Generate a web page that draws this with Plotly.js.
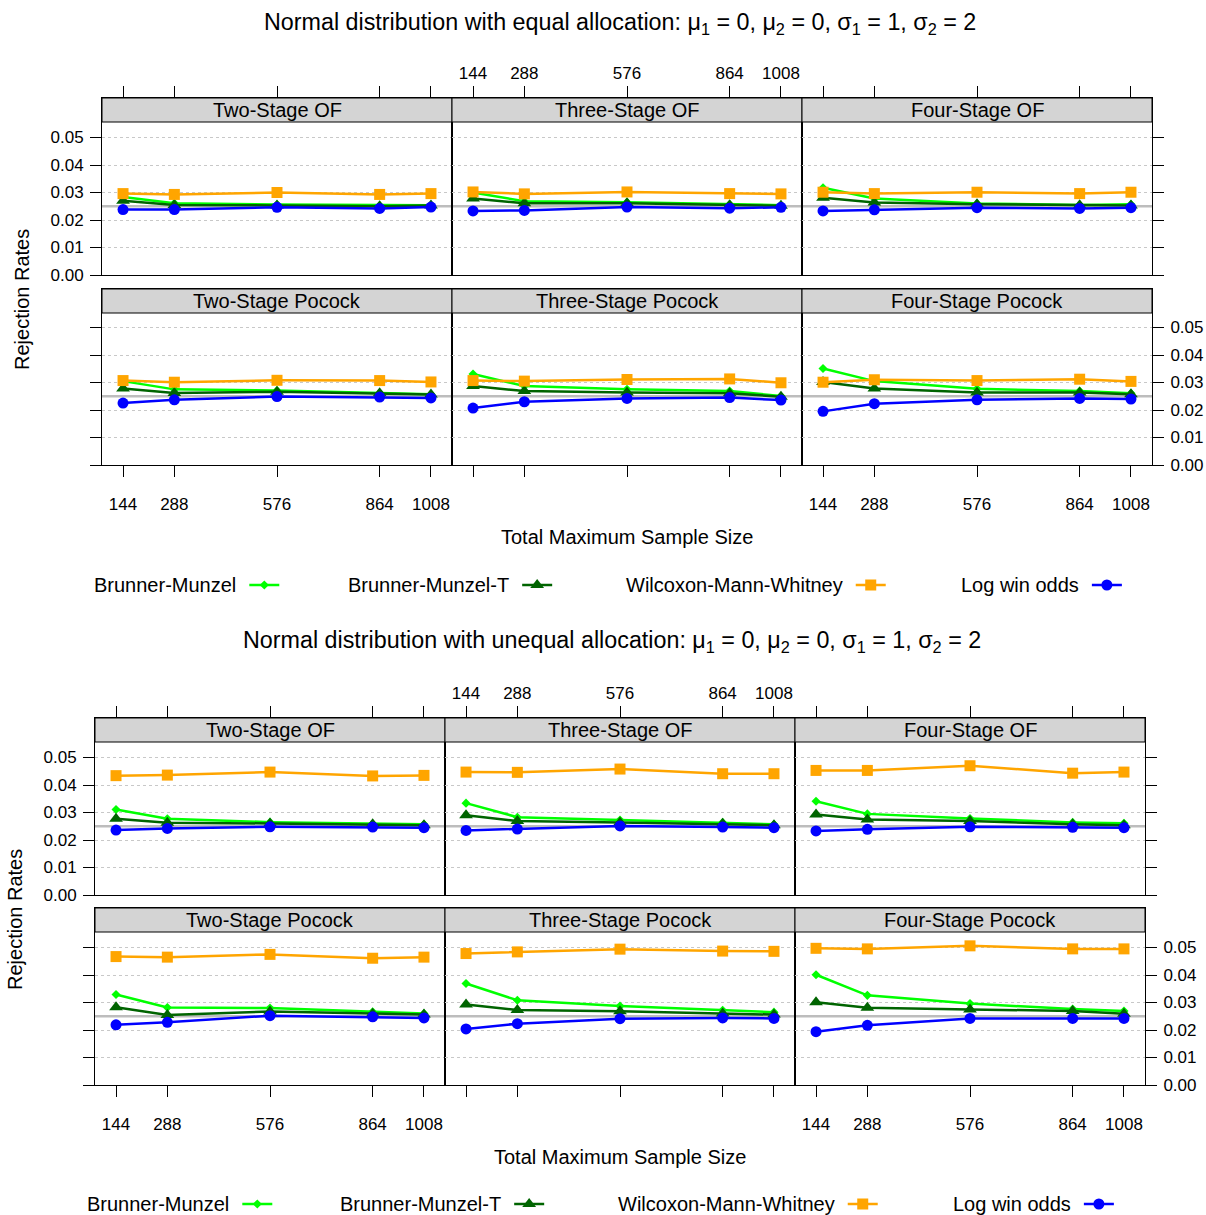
<!DOCTYPE html>
<html>
<head>
<meta charset="utf-8">
<script src="https://cdn.plot.ly/plotly-3.0.1.min.js"></script>
<style>
  html, body { margin: 0; padding: 0; background: #ffffff; width: 1206px; height: 1215px; overflow: hidden; }
  #chart { width: 1206px; height: 1215px; }
</style>
</head>
<body>
<div id="chart"></div>
<script>
// ---------------- DATA ----------------
const sampleSizes = [144, 288, 576, 864, 1008];
const methodNames = ['Brunner-Munzel', 'Brunner-Munzel-T', 'Wilcoxon-Mann-Whitney', 'Log win odds'];
const designNames = ['Two-Stage OF', 'Three-Stage OF', 'Four-Stage OF',
                     'Two-Stage Pocock', 'Three-Stage Pocock', 'Four-Stage Pocock'];
const figureTitles = [
  'Normal distribution with equal allocation: μ<sub>1</sub> = 0, μ<sub>2</sub> = 0, σ<sub>1</sub> = 1, σ<sub>2</sub> = 2',
  'Normal distribution with unequal allocation: μ<sub>1</sub> = 0, μ<sub>2</sub> = 0, σ<sub>1</sub> = 1, σ<sub>2</sub> = 2'
];
const xAxisTitle = 'Total Maximum Sample Size';
const yAxisTitle = 'Rejection Rates';
const yTickVals = [0, 0.01, 0.02, 0.03, 0.04, 0.05];
const yTickText = ['0.00', '0.01', '0.02', '0.03', '0.04', '0.05'];
const nominalLevel = 0.025;

// Equal allocation — one row per design (order of designNames)
const equalBrunnerMunzel = [
  [0.0284, 0.0261, 0.0256, 0.0253, 0.0254],
  [0.0300, 0.0268, 0.0265, 0.0257, 0.0254],
  [0.0317, 0.0278, 0.0260, 0.0255, 0.0257],
  [0.0305, 0.0275, 0.0271, 0.0262, 0.0257],
  [0.0331, 0.0287, 0.0275, 0.0269, 0.0251],
  [0.0351, 0.0305, 0.0277, 0.0269, 0.0261]
];
const equalBrunnerMunzelT = [
  [0.0270, 0.0255, 0.0253, 0.0250, 0.0253],
  [0.0278, 0.0261, 0.0261, 0.0254, 0.0252],
  [0.0281, 0.0264, 0.0257, 0.0254, 0.0253],
  [0.0278, 0.0262, 0.0266, 0.0261, 0.0256],
  [0.0287, 0.0269, 0.0264, 0.0261, 0.0248],
  [0.0302, 0.0278, 0.0264, 0.0264, 0.0257]
];
const equalWilcoxon = [
  [0.0296, 0.0293, 0.0300, 0.0293, 0.0296],
  [0.0302, 0.0295, 0.0302, 0.0296, 0.0295],
  [0.0301, 0.0296, 0.0301, 0.0296, 0.0301],
  [0.0307, 0.0301, 0.0308, 0.0307, 0.0302],
  [0.0307, 0.0305, 0.0311, 0.0313, 0.0299],
  [0.0301, 0.0310, 0.0307, 0.0312, 0.0304]
];
const equalLogWinOdds = [
  [0.0238, 0.0238, 0.0246, 0.0242, 0.0247],
  [0.0233, 0.0235, 0.0247, 0.0243, 0.0246],
  [0.0233, 0.0237, 0.0245, 0.0242, 0.0245],
  [0.0225, 0.0237, 0.0249, 0.0247, 0.0244],
  [0.0207, 0.0230, 0.0242, 0.0245, 0.0236],
  [0.0195, 0.0223, 0.0237, 0.0242, 0.0240]
];

// Unequal allocation
const unequalBrunnerMunzel = [
  [0.0311, 0.0277, 0.0265, 0.0259, 0.0257],
  [0.0334, 0.0283, 0.0273, 0.0264, 0.0257],
  [0.0341, 0.0295, 0.0278, 0.0264, 0.0261],
  [0.0329, 0.0282, 0.0280, 0.0266, 0.0260],
  [0.0369, 0.0308, 0.0287, 0.0272, 0.0265],
  [0.0401, 0.0326, 0.0296, 0.0276, 0.0269]
];
const unequalBrunnerMunzelT = [
  [0.0277, 0.0263, 0.0260, 0.0257, 0.0254],
  [0.0290, 0.0269, 0.0264, 0.0259, 0.0254],
  [0.0293, 0.0275, 0.0269, 0.0257, 0.0254],
  [0.0283, 0.0255, 0.0267, 0.0259, 0.0256],
  [0.0293, 0.0273, 0.0268, 0.0260, 0.0256],
  [0.0301, 0.0281, 0.0275, 0.0269, 0.0259]
];
const unequalWilcoxon = [
  [0.0434, 0.0436, 0.0447, 0.0433, 0.0435],
  [0.0447, 0.0446, 0.0458, 0.0441, 0.0441],
  [0.0453, 0.0453, 0.0470, 0.0443, 0.0447],
  [0.0467, 0.0465, 0.0475, 0.0461, 0.0465],
  [0.0478, 0.0484, 0.0494, 0.0487, 0.0486],
  [0.0497, 0.0495, 0.0506, 0.0495, 0.0495]
];
const unequalLogWinOdds = [
  [0.0236, 0.0242, 0.0248, 0.0247, 0.0245],
  [0.0235, 0.0240, 0.0251, 0.0247, 0.0245],
  [0.0233, 0.0239, 0.0248, 0.0246, 0.0245],
  [0.0219, 0.0228, 0.0252, 0.0248, 0.0244],
  [0.0204, 0.0223, 0.0241, 0.0244, 0.0242],
  [0.0194, 0.0217, 0.0242, 0.0242, 0.0242]
];

// ---------------- STYLE / GEOMETRY ----------------
const W = 1206, H = 1215;
const FONT = 'Liberation Sans, Arial, Helvetica, sans-serif';
const methodStyles = [
  { color: '#00ff00', symbol: 'diamond', size: 7 },
  { color: '#006400', symbol: 'triangle-up', size: 12 },
  { color: '#ffa500', symbol: 'square', size: 11 },
  { color: '#0000ff', symbol: 'circle', size: 11 }
];
const figSeries = [
  [equalBrunnerMunzel, equalBrunnerMunzelT, equalWilcoxon, equalLogWinOdds],
  [unequalBrunnerMunzel, unequalBrunnerMunzelT, unequalWilcoxon, unequalLogWinOdds]
];
const figGeom = [
  { cols: [[102, 452], [452, 802], [802, 1152]],
    rows: [{ top: 98, strip: 122, bot: 275 }, { top: 289, strip: 313, bot: 465 }],
    title: [620, 23], xTitle: [627, 537], yTitle: [22, 300],
    legendY: 585, legendTextX: [94, 348, 626, 961] },
  { cols: [[95, 445], [445, 795], [795, 1145]],
    rows: [{ top: 718, strip: 742, bot: 895 }, { top: 908, strip: 932, bot: 1085 }],
    title: [612, 642], xTitle: [620, 1157], yTitle: [15, 920],
    legendY: 1204, legendTextX: [87, 340, 618, 953] }
];
const pxPerUnit = 2750; // pixels per 1.0 on y (27.5 px per 0.01)

const px = v => v / W;
const py = v => 1 - v / H;

const data = [];
const layout = {
  width: W, height: H, autosize: false,
  margin: { l: 0, r: 0, t: 0, b: 0, pad: 0, autoexpand: false },
  paper_bgcolor: '#ffffff', plot_bgcolor: '#ffffff',
  font: { family: FONT, color: '#000000', size: 17 },
  shapes: [], annotations: [],
  hovermode: 'closest'
};

for (let f = 0; f < 2; f++) {
  const g = figGeom[f];
  for (let p = 0; p < 6; p++) {
    const row = Math.floor(p / 3), col = p % 3;
    const k = f * 6 + p + 1;
    const xn = 'x' + (k === 1 ? '' : k), yn = 'y' + (k === 1 ? '' : k);
    const xk = 'xaxis' + (k === 1 ? '' : k), yk = 'yaxis' + (k === 1 ? '' : k);
    const c = g.cols[col], r = g.rows[row];

    layout[xk] = {
      domain: [px(c[0]), px(c[1])],
      range: [85, 1067],
      tickvals: sampleSizes, ticktext: sampleSizes.map(String),
      ticks: 'outside', ticklen: 11, tickwidth: 1, tickcolor: '#000',
      ticklabelstandoff: row === 0 ? 0 : 13,
      showline: true, mirror: true, linecolor: '#000', linewidth: 1,
      showgrid: false, zeroline: false,
      side: row === 0 ? 'top' : 'bottom',
      showticklabels: row === 0 ? col === 1 : col !== 1,
      tickfont: { size: 17, family: FONT, color: '#000' },
      anchor: yn, fixedrange: true
    };
    layout[yk] = {
      domain: [py(r.bot), py(r.top)],
      range: [0, (r.bot - r.top) / pxPerUnit],
      tickvals: yTickVals, ticktext: yTickText,
      ticks: col === 1 ? '' : 'outside', ticklen: 11, tickwidth: 1, tickcolor: '#000',
      ticklabelstandoff: 3,
      side: col === 2 ? 'right' : 'left',
      showticklabels: (col === 0 && row === 0) || (col === 2 && row === 1),
      showgrid: true, gridcolor: '#c8c8c8', griddash: 'dot', gridwidth: 1,
      zeroline: false,
      showline: true, mirror: true, linecolor: '#000', linewidth: 1,
      tickfont: { size: 17, family: FONT, color: '#000' },
      anchor: xn, fixedrange: true
    };

    // nominal level reference line
    layout.shapes.push({
      type: 'line', layer: 'below',
      xref: xn + ' domain', x0: 0, x1: 1,
      yref: yn, y0: nominalLevel, y1: nominalLevel,
      line: { color: '#bdbdbd', width: 2.5 }
    });
    // strip
    layout.shapes.push({
      type: 'rect', layer: 'above',
      xref: xn + ' domain', x0: 0, x1: 1,
      yref: 'paper', y0: py(r.strip), y1: py(r.top),
      fillcolor: '#d4d4d4', line: { color: '#000', width: 1 }
    });
    layout.annotations.push({
      xref: xn + ' domain', x: 0.5, yref: 'paper', y: py((r.top + r.strip) / 2),
      xanchor: 'center', yanchor: 'middle', showarrow: false,
      text: designNames[p], font: { size: 20, family: FONT, color: '#000' }
    });

    for (let m = 0; m < 4; m++) {
      const st = methodStyles[m];
      const legendNum = f * 4 + m + 1;
      data.push({
        type: 'scatter', mode: 'lines+markers',
        x: sampleSizes, y: figSeries[f][m][p],
        xaxis: xn, yaxis: yn,
        name: p === 0 ? '' : methodNames[m],
        hovertext: methodNames[m],
        showlegend: p === 0,
        legend: legendNum === 1 ? 'legend' : 'legend' + legendNum,
        line: { color: st.color, width: 2.5 },
        marker: { symbol: st.symbol, size: st.size, color: st.color, line: { width: 0 } },
        cliponaxis: false
      });
    }
  }

  // one legend per series: label text first, then the line/marker sample
  for (let m = 0; m < 4; m++) {
    const legendNum = f * 4 + m + 1;
    layout[legendNum === 1 ? 'legend' : 'legend' + legendNum] = {
      x: px(g.legendTextX[m] - 2), xanchor: 'left',
      y: py(g.legendY), yanchor: 'middle',
      orientation: 'h', bgcolor: 'rgba(0,0,0,0)', borderwidth: 0,
      title: { text: methodNames[m], side: 'left', font: { size: 20, family: FONT, color: '#000' } },
      font: { size: 20, family: FONT, color: '#000' },
      itemwidth: 30, itemclick: false, itemdoubleclick: false
    };
  }

  // titles
  layout.annotations.push({
    xref: 'paper', yref: 'paper', x: px(g.title[0]), y: py(g.title[1]),
    xanchor: 'center', yanchor: 'middle', showarrow: false,
    text: figureTitles[f], font: { size: 23.3, family: FONT, color: '#000' }
  });
  layout.annotations.push({
    xref: 'paper', yref: 'paper', x: px(g.xTitle[0]), y: py(g.xTitle[1]),
    xanchor: 'center', yanchor: 'middle', showarrow: false,
    text: xAxisTitle, font: { size: 20, family: FONT, color: '#000' }
  });
  layout.annotations.push({
    xref: 'paper', yref: 'paper', x: px(g.yTitle[0]), y: py(g.yTitle[1]),
    xanchor: 'center', yanchor: 'middle', showarrow: false, textangle: -90,
    text: yAxisTitle, font: { size: 20, family: FONT, color: '#000' }
  });
}

Plotly.newPlot('chart', data, layout, { displayModeBar: false, responsive: false });
</script>
</body>
</html>
